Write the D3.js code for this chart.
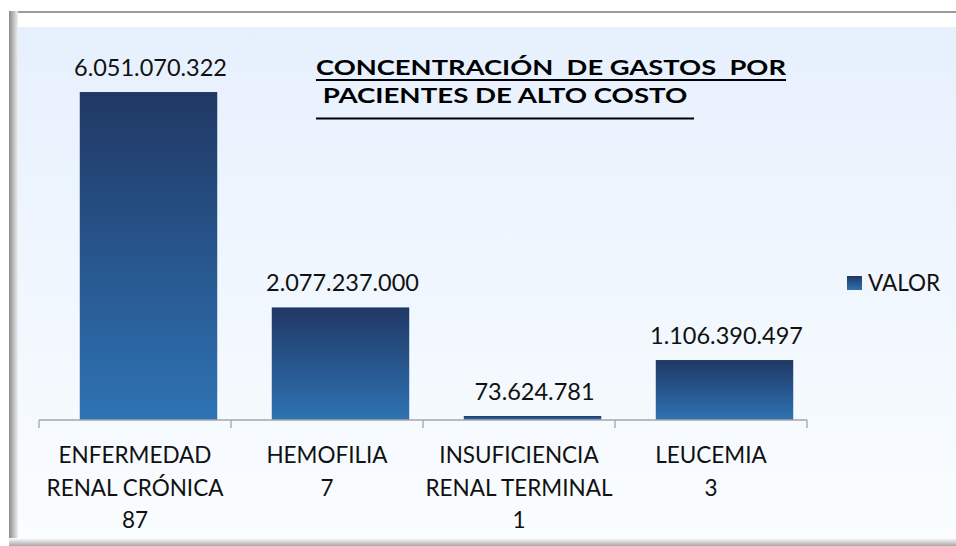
<!DOCTYPE html>
<html><head><meta charset="utf-8">
<script src="https://cdn.jsdelivr.net/npm/d3@7"></script>
<style>html,body{margin:0;padding:0;background:#fff;} svg{display:block;}</style>
</head><body>
<svg id="c" width="956" height="546"></svg>
<script>
const categories = [["ENFERMEDAD","RENAL CRÓNICA","87"],["HEMOFILIA","7"],["INSUFICIENCIA","RENAL TERMINAL","1"],["LEUCEMIA","3"]];
const values = [6051070322, 2077237000, 73624781, 1106390497];
const valueLabels = ["6.051.070.322","2.077.237.000","73.624.781","1.106.390.497"];
const seriesName = "VALOR";
const titleLines = ["CONCENTRACIÓN  DE GASTOS  POR", " PACIENTES DE ALTO COSTO "];

const svg = d3.select("#c");
const defs = svg.append("defs");
const bg = defs.append("linearGradient").attr("id","bg").attr("x1",0).attr("y1",0).attr("x2",0).attr("y2",1);
bg.append("stop").attr("offset","0%").attr("stop-color","#e6f0fd");
bg.append("stop").attr("offset","100%").attr("stop-color","#fafdff");
const bar = defs.append("linearGradient").attr("id","bar").attr("x1",0).attr("y1",0).attr("x2",0).attr("y2",1);
bar.append("stop").attr("offset","0%").attr("stop-color","#203864");
bar.append("stop").attr("offset","100%").attr("stop-color","#2e73b4");
const lg = defs.append("linearGradient").attr("id","lgl").attr("x1",0).attr("y1",0).attr("x2",1).attr("y2",0);
lg.append("stop").attr("offset","0%").attr("stop-color","#8a8a8a");
lg.append("stop").attr("offset","100%").attr("stop-color","#f0f0f0");
const lb = defs.append("linearGradient").attr("id","lgb").attr("x1",0).attr("y1",1).attr("x2",0).attr("y2",0);
lb.append("stop").attr("offset","0%").attr("stop-color","#a8a8a8");
lb.append("stop").attr("offset","100%").attr("stop-color","#ffffff");

// frame with bevel
const fx = 9, fy = 11, fw = 960, fh = 536;
svg.append("rect").attr("x",fx).attr("y",fy).attr("width",fw).attr("height",fh).attr("fill","#ffffff");
svg.append("rect").attr("x",fx).attr("y",fy).attr("width",fw).attr("height",2).attr("fill","#9c9c9c");
svg.append("rect").attr("x",fx).attr("y",fy).attr("width",9).attr("height",fh).attr("fill","url(#lgl)");
svg.append("rect").attr("x",fx).attr("y",538).attr("width",fw).attr("height",8).attr("fill","url(#lgb)");
svg.append("path").attr("d",`M18,13 L956,13 L956,27 L30,27 L18,13 Z`).attr("fill","#ffffff");
svg.append("rect").attr("x",18).attr("y",27).attr("width",940).attr("height",510).attr("fill","url(#bg)");

// category band (labels, ticks) and bar band (Excel-style bar placement)
const x = d3.scaleBand().domain(d3.range(categories.length)).range([39, 807]).padding(0);
const xBar = d3.scaleBand().domain(d3.range(categories.length)).range([52.5, 820.5]).paddingInner(0.284).paddingOuter(0.142);
const y = d3.scaleLinear().domain([0, 7000000000]).range([420, 40.6]);

const font = "Lato, 'Open Sans', sans-serif";

svg.append("g").selectAll("rect").data(values).join("rect")
  .attr("x",(d,i)=>xBar(i)).attr("width",xBar.bandwidth())
  .attr("y",d=>y(d)).attr("height",d=>y(0)-y(d))
  .attr("fill","url(#bar)");

// axis
const ax = svg.append("g").attr("transform","translate(0,420)");
ax.append("line").attr("x1",x.range()[0]).attr("x2",x.range()[1]).attr("stroke","#a6a6a6").attr("stroke-width",1.3);
const tickX = d3.range(categories.length).map(i=>x(i)).concat([x.range()[1]]);
ax.selectAll("line.t").data(tickX).join("line").attr("class","t")
  .attr("x1",d=>d).attr("x2",d=>d).attr("y1",0).attr("y2",8).attr("stroke","#a6a6a6").attr("stroke-width",1.3);

// category labels
const cg = svg.append("g").selectAll("text").data(categories).join("text")
  .attr("font-family",font).attr("font-size",22.5).attr("fill","#111").attr("text-anchor","middle")
  .attr("x",(d,i)=>x(i)+x.bandwidth()/2).attr("y",463);
cg.selectAll("tspan").data(d=>d).join("tspan")
  .attr("x",function(){return d3.select(this.parentNode).attr("x");})
  .attr("dy",(d,j)=>j===0?0:32.5).text(d=>d);

// value labels
svg.append("g").selectAll("text").data(values).join("text")
  .attr("font-family",font).attr("font-size",23.5).attr("fill","#111").attr("text-anchor","middle")
  .attr("x",(d,i)=>xBar(i)+xBar.bandwidth()/2+2).attr("y",d=>y(d)-16)
  .text((d,i)=>valueLabels[i]);

// title
const tg = svg.append("g");
const titleW = [470, 378];
const ulY = [79, 117.5];
titleLines.forEach((t,i)=>{
  tg.append("text").attr("x",316).attr("y",75+i*28)
    .attr("font-family",font).attr("font-weight","bold").attr("font-size",21).attr("fill","#000")
    .attr("textLength",titleW[i]).attr("lengthAdjust","spacingAndGlyphs")
    .attr("xml:space","preserve").style("white-space","pre").text(t);
  tg.append("rect").attr("x",316).attr("y",ulY[i]).attr("width",titleW[i]).attr("height",2).attr("fill","#000");
});

// legend
svg.append("rect").attr("x",847).attr("y",276).attr("width",15).attr("height",14).attr("fill","url(#bar)");
svg.append("text").attr("x",868).attr("y",291).attr("font-family",font).attr("font-size",22.5).attr("fill","#111").text(seriesName);
</script>
</body></html>
